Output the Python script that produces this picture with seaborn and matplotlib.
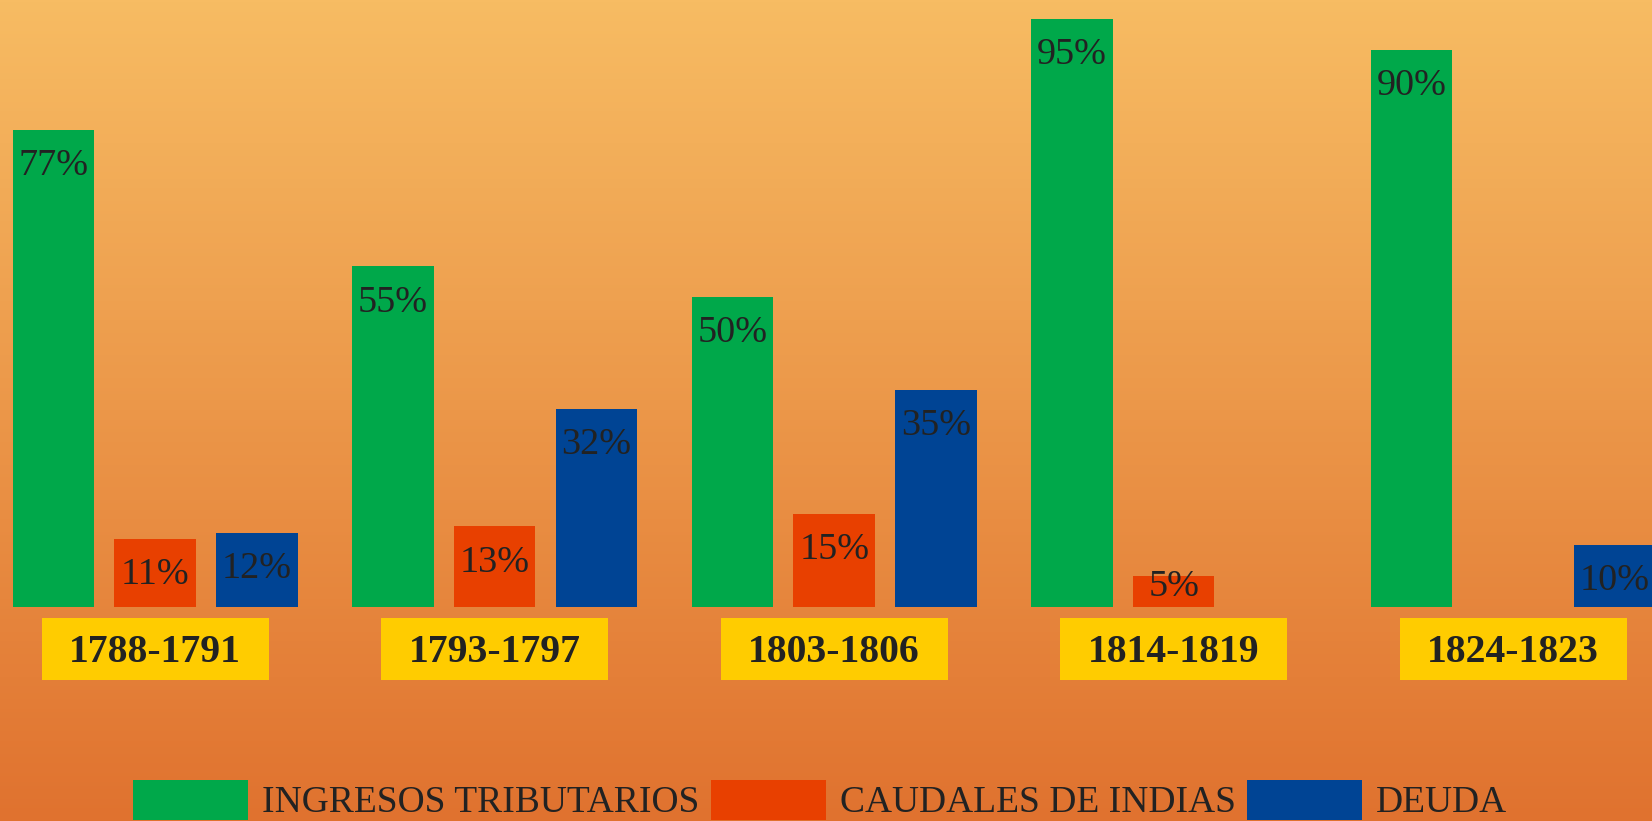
import numpy as np
import pandas as pd
import matplotlib
matplotlib.use("Agg")
import matplotlib.pyplot as plt
import matplotlib.transforms as mtransforms
from matplotlib.patches import Rectangle
import seaborn as sns

# data
periods = ["1788-1791", "1793-1797", "1803-1806", "1814-1819", "1824-1823"]
series = ["INGRESOS TRIBUTARIOS", "CAUDALES DE INDIAS", "DEUDA"]
ingresos = [77, 55, 50, 95, 90]
caudales = [11, 13, 15, 5, None]   # no bar in the last period
deuda = [12, 32, 35, None, 10]     # no bar in 1814-1819

colors = ["#00A84A", "#E84000", "#004494"]
text_color = "#222222"

rows = []
for name, vals in zip(series, [ingresos, caudales, deuda]):
    for p, v in zip(periods, vals):
        if v is not None:
            rows.append({"periodo": p, "serie": name, "valor": v})
df = pd.DataFrame(rows)

W, H, DPI = 1652, 821, 100
fig = plt.figure(figsize=(W / DPI, H / DPI), dpi=DPI)

# background gradient
bg = fig.add_axes([0, 0, 1, 1], zorder=-1)
top = np.array([247, 188, 99]) / 255
bottom = np.array([224, 114, 47]) / 255
t = np.linspace(0, 1, 256)[:, None]
grad = top[None, None, :] * (1 - t[..., None]) + bottom[None, None, :] * t[..., None]
bg.imshow(np.repeat(grad, 2, axis=1), aspect="auto", extent=[0, 1, 0, 1])
bg.axis("off")

base_px = 607
ax = fig.add_axes([0, (H - base_px) / H, 1, base_px / H])
ax.patch.set_alpha(0)

sns.barplot(data=df, x="periodo", y="valor", hue="serie", order=periods,
            hue_order=series, palette=colors, width=0.9, gap=0.2,
            saturation=1, errorbar=None, ax=ax)

ax.set_xlim(-0.457, 4.409)
ax.set_ylim(0, 98)
ax.set_xlabel("")
ax.set_ylabel("")
ax.set_yticks([])
for s in ax.spines.values():
    s.set_visible(False)

# value labels inside the top of each bar
for cont in ax.containers:
    for bar in cont:
        h = bar.get_height()
        if np.isnan(h):
            continue
        xc = bar.get_x() + bar.get_width() / 2
        ax.text(xc, max(h - 5.8, 3.2), f"{h:.0f}%", ha="center", va="center",
                fontsize=27.5, family="Liberation Serif", color=text_color, zorder=5)

# period labels on yellow boxes
ax.tick_params(axis="x", length=0, pad=33)
ax.set_xticks(range(len(periods)))
ax.set_xticklabels(periods, fontsize=28.5, family="Liberation Serif",
                   fontweight="bold", color=text_color, va="center")
ax.xaxis.set_zorder(3)
trans = mtransforms.blended_transform_factory(ax.transData, ax.transAxes)
bw = 227 / 339.5
for i in range(len(periods)):
    ax.add_patch(Rectangle((i - bw / 2, -0.120), bw, 0.102, transform=trans,
                           facecolor="#FFCC00", edgecolor="none",
                           clip_on=False, zorder=0.2))

handles, labels = ax.get_legend_handles_labels()
ax.get_legend().remove()
fig.legend(handles, labels, loc="center left", ncol=3,
           bbox_to_anchor=(133 / W, 1 - 800 / H), bbox_transform=fig.transFigure,
           frameon=False, borderpad=0, borderaxespad=0,
           handlelength=3.07, handleheight=1.28, handletextpad=0.37,
           columnspacing=0.3,
           prop={"family": "Liberation Serif", "size": 27},
           labelcolor=text_color)

fig.savefig("out.png", dpi=DPI)
